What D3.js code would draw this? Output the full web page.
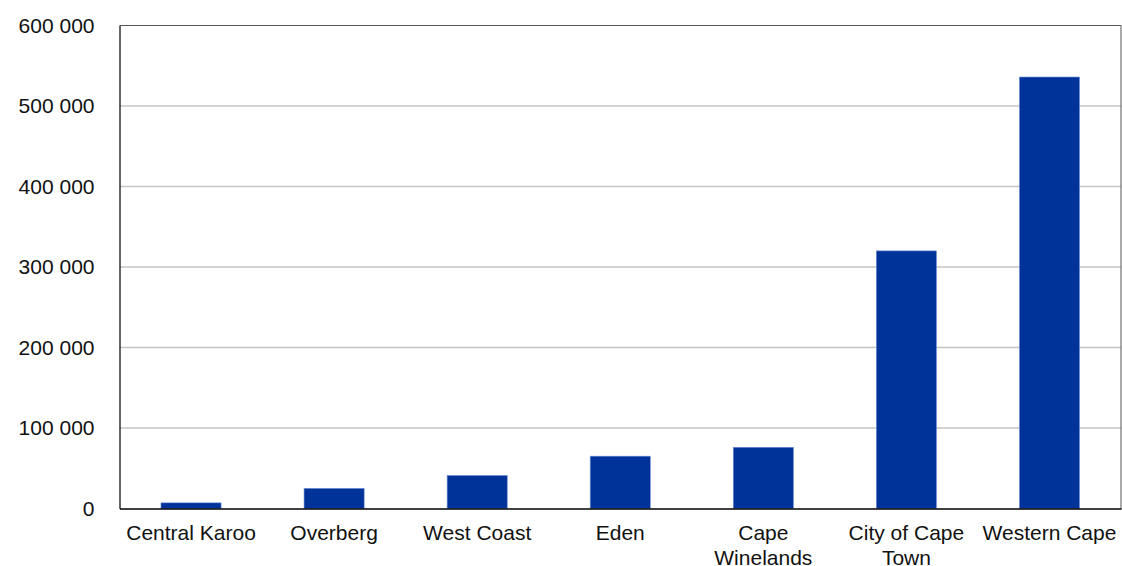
<!DOCTYPE html>
<html>
<head>
<meta charset="utf-8">
<script src="https://cdn.jsdelivr.net/npm/d3@7"></script>
<style>
  html, body { margin: 0; padding: 0; background: #fff; }
  svg { display: block; font-family: "Liberation Sans", Arial, sans-serif; }
</style>
</head>
<body>
<svg id="chart" width="1122" height="566"></svg>
<script>
// District values
const categories = ["Central Karoo", "Overberg", "West Coast", "Eden", "Cape Winelands", "City of Cape Town", "Western Cape"];
const values = [7000, 25000, 41000, 65000, 76000, 320000, 536000];
const yTicks = [0, 100000, 200000, 300000, 400000, 500000, 600000];

const W = 1122, H = 566;
const margin = { top: 25.5, right: 1, bottom: 57.5, left: 119.5 };
const iw = W - margin.left - margin.right;
const ih = H - margin.top - margin.bottom;

const svg = d3.select("#chart");
const g = svg.append("g").attr("transform", `translate(${margin.left},${margin.top})`);

const x = d3.scaleBand().domain(categories).range([0, iw]).paddingInner(0.58).paddingOuter(0.29);
const y = d3.scaleLinear().domain([0, 600000]).range([ih, 0]);

const fmt = v => d3.format(",")(v).replace(/,/g, " ");

// gridlines
g.append("g")
  .selectAll("line")
  .data(yTicks.filter(t => t > 0 && t < 600000))
  .join("line")
  .attr("x1", 0).attr("x2", iw)
  .attr("y1", d => y(d)).attr("y2", d => y(d))
  .attr("stroke", "#c4c4c4").attr("stroke-width", 1.5);

// plot frame (top and right)
g.append("path")
  .attr("d", `M0,0H${iw}V${ih}`)
  .attr("fill", "none").attr("stroke", "#555").attr("stroke-width", 1);

// bars
g.append("g")
  .selectAll("rect")
  .data(values)
  .join("rect")
  .attr("x", (d, i) => x(categories[i]))
  .attr("width", x.bandwidth())
  .attr("y", d => y(d))
  .attr("height", d => ih - y(d))
  .attr("fill", "#003399")
  .attr("stroke", "#6d8ed6").attr("stroke-width", 0.6);

// y axis
const yAxis = g.append("g")
  .call(d3.axisLeft(y).tickValues(yTicks).tickFormat(fmt).tickSize(0).tickPadding(25));
yAxis.select(".domain").attr("stroke", "#000").attr("stroke-width", 1.2);
yAxis.selectAll("text").attr("font-size", 21).attr("fill", "#111")
  .attr("font-family", "'Liberation Sans', Arial, sans-serif");

// x axis
const xAxis = g.append("g")
  .attr("transform", `translate(0,${ih})`)
  .call(d3.axisBottom(x).tickSize(0).tickPadding(17));
xAxis.select(".domain").attr("stroke", "#000").attr("stroke-width", 1.5);
xAxis.selectAll("text").attr("font-size", 21).attr("fill", "#111")
  .attr("font-family", "'Liberation Sans', Arial, sans-serif")
  .call(wrap, x.step() - 4);

function wrap(texts, width) {
  texts.each(function () {
    const text = d3.select(this);
    const words = text.text().split(/\s+/);
    const yAttr = text.attr("y");
    const dy = parseFloat(text.attr("dy")) || 0;
    text.text(null);
    let line = [];
    let lineNo = 0;
    let tspan = text.append("tspan").attr("x", 0).attr("y", yAttr).attr("dy", dy + "em");
    for (const w of words) {
      line.push(w);
      tspan.text(line.join(" "));
      if (tspan.node().getComputedTextLength() > width && line.length > 1) {
        line.pop();
        tspan.text(line.join(" "));
        line = [w];
        lineNo++;
        tspan = text.append("tspan").attr("x", 0).attr("y", yAttr)
          .attr("dy", (dy + lineNo * 1.19) + "em").text(w);
      }
    }
  });
}
</script>
</body>
</html>
